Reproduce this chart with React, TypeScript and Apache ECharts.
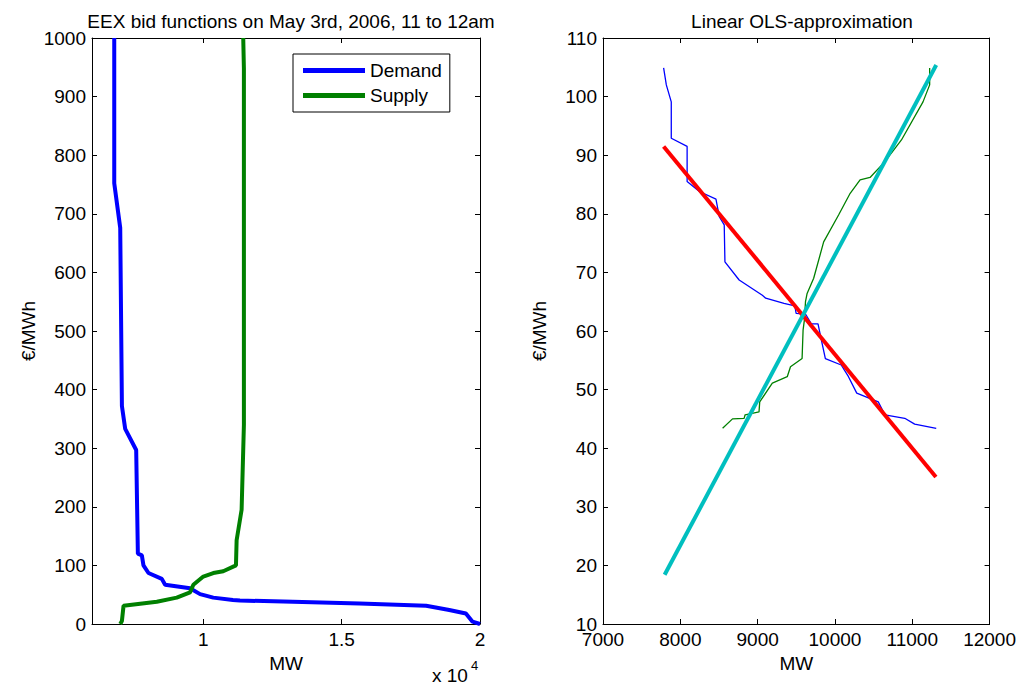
import { useEffect, useRef } from 'react';
import * as echarts from 'echarts';

// left panel: bid functions, [MW, €/MWh]
const demandFull: [number, number][] = [
  [6781, 1000], [6781, 752], [6997, 676], [7058, 372], [7177, 333], [7574, 297],
  [7635, 120], [7779, 117], [7837, 100], [8018, 87], [8500, 77], [8620, 67],
  [9520, 61], [9882, 51], [10360, 45], [11070, 41], [11323, 40], [13240, 38],
  [15650, 35], [18053, 31], [18890, 24], [19490, 18], [19730, 4], [20000, 0],
];
const supplyFull: [number, number][] = [
  [6997, 0], [7058, 5], [7117, 31], [8320, 38], [9040, 45], [9520, 54],
  [9640, 67], [10000, 81], [10360, 87], [10720, 90], [11180, 100], [11204, 143],
  [11384, 195], [11467, 340], [11467, 948], [11443, 1000],
];

// right panel: zoomed curves and OLS lines
const demandZoom: [number, number][] = [
  [7784, 104.9], [7819, 102], [7883, 99.1], [7883, 92.9], [8088, 91.5], [8088, 85.5],
  [8247, 83.8], [8461, 82.5], [8504, 79.5], [8568, 78.1], [8577, 71.8], [8761, 68.7],
  [9061, 66.1], [9104, 65.6], [9341, 64.7], [9481, 64.3], [9498, 63], [9619, 62.9],
  [9696, 61.2], [9781, 61.2], [9824, 58.5], [9876, 55.3], [10081, 54.2], [10175, 52.2],
  [10282, 49.4], [10560, 47.9], [10646, 45.7], [10903, 45.1], [11031, 44.1], [11310, 43.4],
];
const supplyZoom: [number, number][] = [
  [8547, 43.4], [8675, 45], [8825, 45.1], [8838, 45.7], [9018, 46.2], [9027, 47.9],
  [9190, 51.1], [9383, 52.2], [9425, 53.9], [9575, 55.3], [9588, 60.2], [9605, 61.9],
  [9619, 65], [9640, 66.4], [9725, 69], [9854, 75.2], [10047, 79.8], [10197, 83.5],
  [10325, 85.8], [10454, 86.2], [10646, 88.9], [10860, 92.6], [11139, 99.1],
  [11225, 102], [11225, 104.9],
];
const demandOLS: [number, number][] = [[7784, 91.5], [11306, 35.1]];
const supplyOLS: [number, number][] = [[7797, 18.4], [11310, 105.4]];

const leftXTicks = [10000, 15000, 20000];

const FONT = 'Liberation Sans, Arial, sans-serif';
const txt = { fontFamily: FONT, fontSize: 19, color: '#000' };

export default function App() {
  const ref = useRef<HTMLDivElement>(null);

  useEffect(() => {
    if (!ref.current) return;
    const chart = echarts.init(ref.current, null, { renderer: 'svg' });

    const tick = { show: true, inside: true, length: 5, lineStyle: { color: '#000' } };
    const line = { show: true, onZero: false, lineStyle: { color: '#000', width: 1 } };

    const boxAxis = (gridIndex: number, position: string, extra: any) => ({
      type: 'value',
      gridIndex,
      position,
      axisLine: line,
      axisTick: tick,
      splitLine: { show: false },
      ...extra,
      axisLabel: { show: false },
    });

    const mainAxis = (gridIndex: number, name: string, gap: number, extra: any) => ({
      type: 'value',
      gridIndex,
      name,
      nameLocation: 'middle',
      nameGap: gap,
      nameTextStyle: txt,
      axisLine: line,
      axisTick: tick,
      axisLabel: { ...txt, margin: 6, formatter: (v: number) => String(v) },
      splitLine: { show: false },
      ...extra,
    });

    const leftX = {
      min: 5977,
      max: 20000,
      axisLabel: {
        ...txt,
        margin: 6,
        customValues: leftXTicks,
        formatter: (v: number) => String(v / 10000),
      },
      axisTick: { ...tick, customValues: leftXTicks },
    };
    const leftY = { min: 0, max: 1000, interval: 100 };
    const rightX = { min: 7000, max: 12000, interval: 1000 };
    const rightY = { min: 10, max: 110, interval: 10 };

    chart.setOption({
      animation: false,
      title: [
        { text: 'EEX bid functions on May 3rd, 2006, 11 to 12am', left: 278, top: -1, textAlign: 'center', textStyle: { ...txt, fontWeight: 'normal' } },
        { text: 'Linear OLS-approximation', left: 789, top: -1, textAlign: 'center', textStyle: { ...txt, fontWeight: 'normal' } },
      ],
      grid: [
        { left: 84, top: 30, width: 388, height: 586 },
        { left: 595, top: 30, width: 389, height: 586 },
      ],
      legend: {
        left: 285,
        top: 46,
        orient: 'vertical',
        borderColor: '#000',
        borderWidth: 1,
        padding: [7, 8, 7, 10],
        itemGap: 6,
        itemWidth: 62,
        itemHeight: 5,
        textStyle: { ...txt },
        data: [
          { name: 'Demand', icon: 'rect' },
          { name: 'Supply', icon: 'rect' },
        ],
      },
      xAxis: [
        mainAxis(0, 'MW', 30, leftX),
        mainAxis(1, 'MW', 30, rightX),
        boxAxis(0, 'top', leftX),
        boxAxis(1, 'top', rightX),
      ],
      yAxis: [
        mainAxis(0, '€/MWh', 54, leftY),
        mainAxis(1, '€/MWh', 54, rightY),
        boxAxis(0, 'right', leftY),
        boxAxis(1, 'right', rightY),
      ],
      graphic: [
        { type: 'text', left: 424, top: 658, style: { text: 'x 10', font: `19px ${FONT}`, fill: '#000' } },
        { type: 'text', left: 463, top: 651, style: { text: '4', font: `13px ${FONT}`, fill: '#000' } },
      ],
      series: [
        { name: 'Demand', type: 'line', xAxisIndex: 0, yAxisIndex: 0, data: demandFull, showSymbol: false, color: '#0000ff', lineStyle: { width: 4 } },
        { name: 'Supply', type: 'line', xAxisIndex: 0, yAxisIndex: 0, data: supplyFull, showSymbol: false, color: '#008000', lineStyle: { width: 4 } },
        { name: 'dz', type: 'line', xAxisIndex: 1, yAxisIndex: 1, data: demandZoom, showSymbol: false, color: '#0000ff', lineStyle: { width: 1.3 } },
        { name: 'sz', type: 'line', xAxisIndex: 1, yAxisIndex: 1, data: supplyZoom, showSymbol: false, color: '#008000', lineStyle: { width: 1.3 } },
        { name: 'dols', type: 'line', xAxisIndex: 1, yAxisIndex: 1, data: demandOLS, showSymbol: false, color: '#ff0000', lineStyle: { width: 4 } },
        { name: 'sols', type: 'line', xAxisIndex: 1, yAxisIndex: 1, data: supplyOLS, showSymbol: false, color: '#00bfbf', lineStyle: { width: 4 } },
      ],
    });

    return () => chart.dispose();
  }, []);

  return <div ref={ref} style={{ width: 1011, height: 683 }} />;
}
